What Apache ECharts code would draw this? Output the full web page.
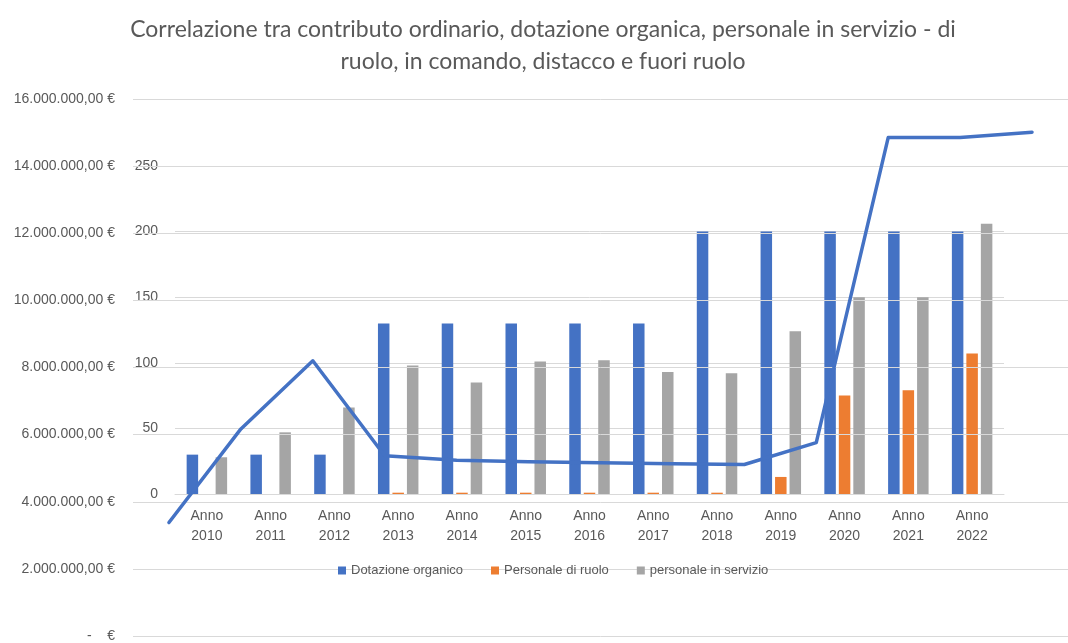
<!DOCTYPE html>
<html>
<head>
<meta charset="utf-8">
<script src="https://cdn.jsdelivr.net/npm/echarts@6/dist/echarts.min.js"></script>
<style>html,body{margin:0;padding:0;background:#fff}#c{width:1068px;height:643px}</style>
</head>
<body>
<div id="c"></div>
<script>
const years = ['2010','2011','2012','2013','2014','2015','2016','2017','2018','2019','2020','2021','2022'];
const dotazioneOrganico = [30,30,30,130,130,130,130,130,200,200,200,200,200];
const personaleDiRuolo = [0,0,0,1,1,1,1,1,1,13,75,79,107];
const personaleInServizio = [28,47,66,98,85,101,102,93,92,124,150,150,206];
const contributoOrdinario = [3380000,6170000,8200000,5370000,5240000,5190000,5160000,5130000,5110000,5760000,14850000,14850000,15010000];
const euroTicks = {min:0, max:16000000, interval:2000000};
const countTicks = {min:0, max:250, interval:50};

function fmtEuro(v){
  if (v === 0) return '-    €';
  let s = v.toFixed(2).split('.');
  let i = s[0].replace(/\B(?=(\d{3})+(?!\d))/g, '.');
  return i + ',' + s[1] + ' €';
}
const txt = '#595959';
const grid = '#d9d9d9';
const font = 'Liberation Sans, Arial, sans-serif';

const chart = echarts.init(document.getElementById('c'));
chart.setOption({
  backgroundColor: '#fff',
  animation: false,
  title: {
    text: 'Correlazione tra contributo ordinario, dotazione organica, personale in servizio - di\nruolo, in comando, distacco e fuori ruolo',
    left: 538, top: 9, textAlign: 'center',
    textStyle: {color: txt, fontSize: 23, fontWeight: 'normal', fontFamily: 'Lato, sans-serif', lineHeight: 32}
  },
  legend: {
    data: ['Dotazione organico','Personale di ruolo','personale in servizio'],
    left: 333, top: 559,
    itemWidth: 8, itemHeight: 8, itemGap: 28, icon: 'rect',
    textStyle: {color: txt, fontSize: 13, fontFamily: font}
  },
  grid: [
    {left: 133, top: 99, width: 946, height: 539},
    {left: 175, top: 166, width: 829, height: 328}
  ],
  xAxis: [
    {type: 'category', gridIndex: 0, data: years, show: false, boundaryGap: true},
    {type: 'category', gridIndex: 1, data: years.map(y => 'Anno\n' + y),
     axisLine: {lineStyle: {color: grid}}, axisTick: {show: false},
     axisLabel: {color: txt, fontSize: 14, fontFamily: font, lineHeight: 20, margin: 12}}
  ],
  yAxis: [
    {type: 'value', gridIndex: 0, min: euroTicks.min, max: euroTicks.max, interval: euroTicks.interval, z: 3,
     axisLine: {show: false}, axisTick: {show: false},
     splitLine: {lineStyle: {color: grid, width: 1}},
     axisLabel: {color: txt, fontSize: 14, fontFamily: font, margin: 18, formatter: fmtEuro}},
    {type: 'value', gridIndex: 1, min: countTicks.min, max: countTicks.max, interval: countTicks.interval,
     axisLine: {show: false}, axisTick: {show: false},
     splitLine: {lineStyle: {color: grid, width: 1}},
     axisLabel: {color: txt, fontSize: 14, fontFamily: font, margin: 17}}
  ],
  series: [
    {name: 'Dotazione organico', type: 'bar', xAxisIndex: 1, yAxisIndex: 1, data: dotazioneOrganico,
     barWidth: 11.5, barGap: '26%', itemStyle: {color: '#4472C4'}},
    {name: 'Personale di ruolo', type: 'bar', xAxisIndex: 1, yAxisIndex: 1, data: personaleDiRuolo,
     barWidth: 11.5, barGap: '26%', itemStyle: {color: '#ED7D31'}},
    {name: 'personale in servizio', type: 'bar', xAxisIndex: 1, yAxisIndex: 1, data: personaleInServizio,
     barWidth: 11.5, barGap: '26%', itemStyle: {color: '#A5A5A5'}},
    {name: 'Contributo ordinario', type: 'line', xAxisIndex: 0, yAxisIndex: 0, data: contributoOrdinario,
     z: 5, symbol: 'none', lineStyle: {color: '#4472C4', width: 3.5, join: 'round', cap: 'round'}, itemStyle: {color: '#4472C4'}}
  ]
});
</script>
</body>
</html>
